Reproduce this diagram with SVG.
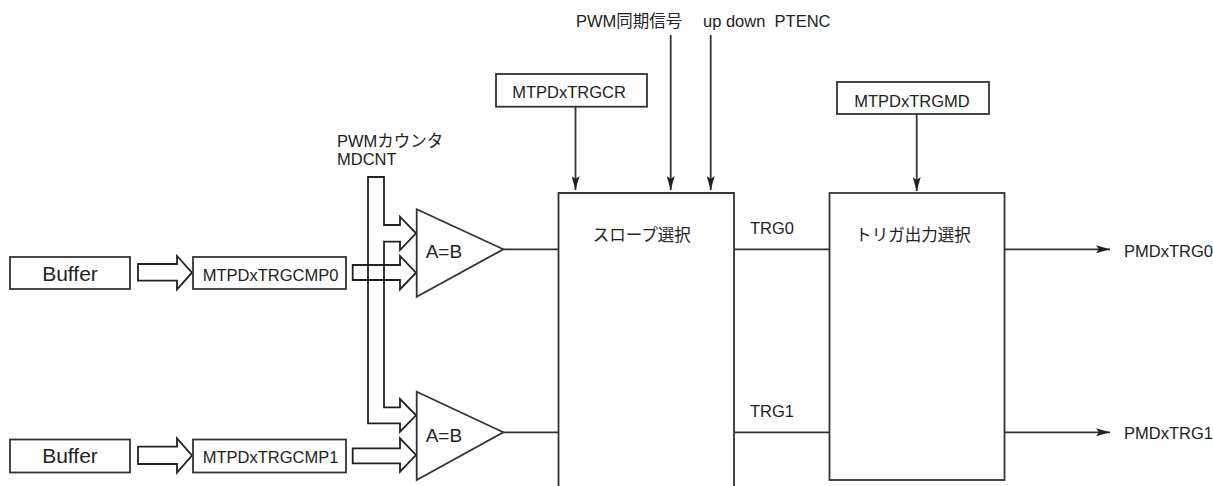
<svg xmlns="http://www.w3.org/2000/svg" width="1213" height="486" viewBox="0 0 1213 486">
<style>
  .ln { fill: none; stroke: #333; stroke-width: 1.8; }
  .bx { fill: #fff; stroke: #333; stroke-width: 1.8; }
  .fat { fill: none; stroke: #222; stroke-width: 1.8; stroke-linejoin: miter; }
  text { font-family: "Liberation Sans", "Noto Sans CJK JP", sans-serif; fill: #222; font-size: 16.5px; }
  .big { font-size: 21px; }
  .cmp { font-size: 19px; }
</style>
<defs>
  <marker id="ah" viewBox="0 0 14 8" refX="14" refY="4" markerWidth="14" markerHeight="8" markerUnits="userSpaceOnUse" orient="auto">
    <path d="M0,0 L14,4 L0,8 L3,4 Z" fill="#222"/>
  </marker>
</defs>

<g id="connectors">
  <polygon class="fat" points="138,264 177,264 177,256 192,272.7 177,289.3 177,280.7 138,280.7"/>
  <polygon class="fat" points="138,446.7 177,446.7 177,438.5 192,455.5 177,472.5 177,464 138,464"/>
  <polygon class="fat" points="352.7,265 400,265 400,256 416,272.7 400,289.4 400,280 352.7,280"/>
  <polygon class="fat" points="352.7,448.3 400,448.3 400,438.3 416,455 400,471.7 400,463.3 352.7,463.3"/>
  <polygon class="fat" points="368,177 384,177 384,225 400,225 400,216.7 416,233.3 400,250 400,241.7 384,241.7 384,407.3 400,407.3 400,399 416,415.3 400,431.7 400,423.3 368,423.3"/>
  <line class="ln" x1="503.3" y1="249.3" x2="558.5" y2="249.3"/>
  <line class="ln" x1="503.3" y1="432.3" x2="558.5" y2="432.3"/>
  <line class="ln" x1="734" y1="249.3" x2="829.5" y2="249.3"/>
  <line class="ln" x1="734" y1="432.3" x2="829.5" y2="432.3"/>
  <line class="ln" x1="1004.5" y1="249.3" x2="1110" y2="249.3" marker-end="url(#ah)"/>
  <line class="ln" x1="1004.5" y1="432.3" x2="1110" y2="432.3" marker-end="url(#ah)"/>
  <line class="ln" x1="575.5" y1="106.7" x2="575.5" y2="190" marker-end="url(#ah)"/>
  <line class="ln" x1="670.7" y1="35" x2="670.7" y2="190" marker-end="url(#ah)"/>
  <line class="ln" x1="710.7" y1="35" x2="710.7" y2="190" marker-end="url(#ah)"/>
  <line class="ln" x1="916.7" y1="114" x2="916.7" y2="191" marker-end="url(#ah)"/>
</g>

<g id="buffer0">
  <rect class="bx" x="10" y="257" width="120" height="32"/>
  <text class="big" x="70" y="281" text-anchor="middle">Buffer</text>
</g>
<g id="buffer1">
  <rect class="bx" x="10" y="439.5" width="120" height="33"/>
  <text class="big" x="70" y="463.3" text-anchor="middle">Buffer</text>
</g>
<g id="cmp0reg">
  <rect class="bx" x="193" y="257" width="153" height="32"/>
  <text x="270.5" y="281" text-anchor="middle">MTPDxTRGCMP0</text>
</g>
<g id="cmp1reg">
  <rect class="bx" x="193" y="439.5" width="153" height="33"/>
  <text x="270.5" y="463.3" text-anchor="middle">MTPDxTRGCMP1</text>
</g>
<g id="counter">
  <text x="337" y="146.7">PWMカウンタ</text>
  <text x="337" y="165">MDCNT</text>
</g>
<g id="comparator0">
  <polygon class="ln" points="416.7,209.3 503.3,249.3 416.7,296.7"/>
  <text class="cmp" x="425.7" y="258.3">A=B</text>
</g>
<g id="comparator1">
  <polygon class="ln" points="416.7,391.7 503.3,432.3 416.7,480"/>
  <text class="cmp" x="425.7" y="441.7">A=B</text>
</g>
<g id="trgcr">
  <rect class="bx" x="496" y="74" width="151" height="32.7"/>
  <text x="569" y="98" text-anchor="middle">MTPDxTRGCR</text>
</g>
<g id="sync">
  <text x="576" y="26.5">PWM同期信号</text>
</g>
<g id="updown">
  <text x="703" y="26.5" xml:space="preserve" style="white-space:pre">up down  PTENC</text>
</g>
<g id="slope">
  <path class="ln" d="M558.5,492 V193 H734 V492"/>
  <text x="641.7" y="241" text-anchor="middle">スロープ選択</text>
</g>
<g id="trglabels">
  <text x="750" y="233.5">TRG0</text>
  <text x="750" y="416.5">TRG1</text>
</g>
<g id="trgmd">
  <rect class="bx" x="837" y="82" width="152" height="32"/>
  <text x="912" y="106.5" text-anchor="middle">MTPDxTRGMD</text>
</g>
<g id="trigsel">
  <rect class="bx" x="829.5" y="193" width="175" height="287"/>
  <text x="913" y="241" text-anchor="middle">トリガ出力選択</text>
</g>
<g id="out0">
  <text x="1124" y="256.7">PMDxTRG0</text>
</g>
<g id="out1">
  <text x="1124" y="439">PMDxTRG1</text>
</g>
</svg>
